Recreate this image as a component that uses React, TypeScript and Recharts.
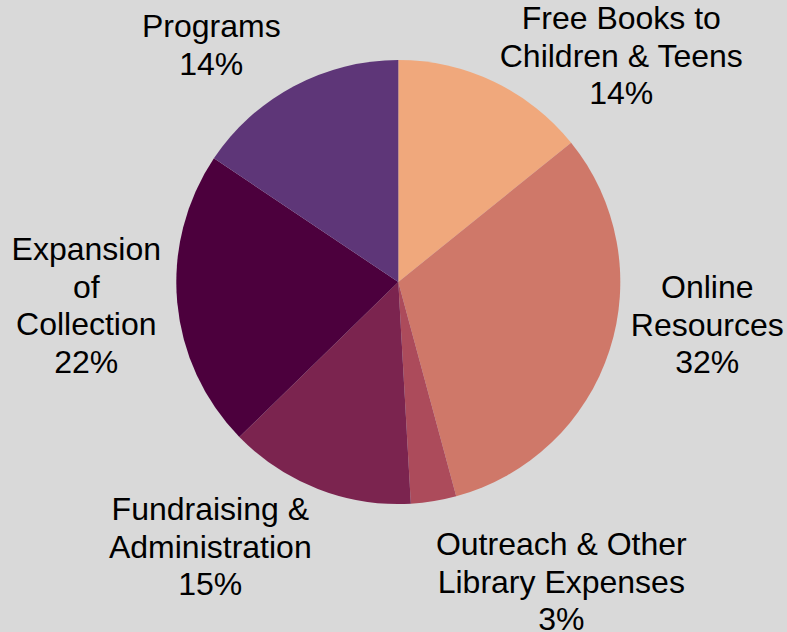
import { PieChart, Pie, Cell } from 'recharts';

const CATEGORIES = [
  'Free Books to\nChildren & Teens',
  'Online\nResources',
  'Outreach & Other\nLibrary Expenses',
  'Fundraising &\nAdministration',
  'Expansion\nof\nCollection',
  'Programs',
];
const SHARES = [14.2, 31.6, 3.3, 13.6, 21.7, 15.6];
const PCT_LABELS = ['14%', '32%', '3%', '15%', '22%', '14%'];

const COLORS = ['#F0A87C', '#CF7869', '#AC4B5B', '#7B244F', '#4C003D', '#5E3678'];

// label block placement: center x and first baseline, relative to pie center
const LABEL_OFFSETS: [number, number][] = [
  [223, -253],
  [309, 16],
  [163, 273],
  [-188, 238],
  [-312, -22],
  [-187, -245],
];

const LINE_H = 37.5;

const data = CATEGORIES.map((name, i) => ({ name, value: SHARES[i], pct: PCT_LABELS[i] }));

const renderLabel = (props: any) => {
  const { cx, cy, index } = props;
  const [dx, dy] = LABEL_OFFSETS[index];
  const lines = [...CATEGORIES[index].split('\n'), PCT_LABELS[index]];
  return (
    <text
      x={cx + dx}
      y={cy + dy}
      textAnchor="middle"
      fill="#000"
      fontSize={32}
      fontFamily="'Liberation Sans', Arial, sans-serif"
    >
      {lines.map((l, i) => (
        <tspan key={i} x={cx + dx} dy={i === 0 ? 0 : LINE_H}>
          {l}
        </tspan>
      ))}
    </text>
  );
};

export default function App() {
  return (
    <div style={{ position: 'absolute', left: 0, top: 0, width: 787, height: 632, background: '#D9D9D9' }}>
      <PieChart width={787} height={632} margin={{ top: 0, right: 0, bottom: 0, left: 0 }}>
        <Pie
          data={data}
          dataKey="value"
          cx={398.3}
          cy={282}
          outerRadius={222}
          startAngle={90}
          endAngle={-270}
          stroke="none"
          label={renderLabel}
          labelLine={false}
          isAnimationActive={false}
        >
          {data.map((d, i) => (
            <Cell key={d.name} fill={COLORS[i]} />
          ))}
        </Pie>
      </PieChart>
    </div>
  );
}
